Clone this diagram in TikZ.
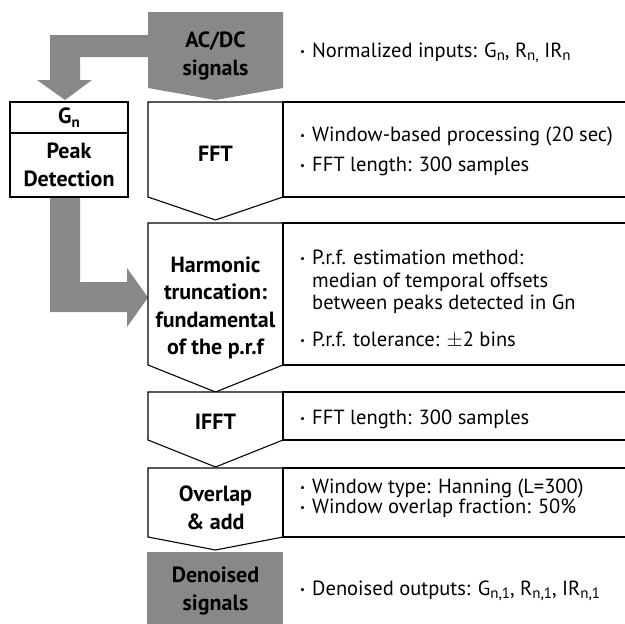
\documentclass[tikz,border=0pt]{standalone}
\usepackage{fontspec}
\setmainfont{PT Sans}
\definecolor{flowgray}{RGB}{136,136,136}
\newcommand\lowsub[1]{\raisebox{-0.35ex}{\fontsize{15}{15}\selectfont #1}}
\newcommand\itembul{\makebox[12pt][l]{\raisebox{0.1ex}{\fontsize{11}{11}\selectfont\textbullet}}}
\begin{document}
\begin{tikzpicture}[x=1pt,y=-1pt,
  stage/.style={draw=black,line width=1.1pt,fill=white,line join=miter},
  infobox/.style={draw=black,line width=1.1pt},
  flow/.style={fill=flowgray,draw=none},
  lbl/.style={font=\fontsize{22}{27.5}\selectfont\bfseries,align=center,inner sep=0pt},
  txt/.style={font=\fontsize{20.5}{22}\selectfont,anchor=base west,inner sep=0pt},
]
\useasboundingbox (0,0) rectangle (625,624);

% grey input/output blocks and the side flow arrows
\fill[flow] (148,12) -- (283,12) -- (283,88) -- (215.5,100) -- (148,88) -- cycle;
\fill[flow] (148,35) -- (50,35) -- (50,80) -- (37,80) -- (65,100) -- (92,80)
  -- (80,80) -- (80,57) -- (148,57) -- cycle;
\fill[flow] (50,197) -- (50,312) -- (127,312) -- (127,327) -- (148,297.5)
  -- (127,268) -- (127,282) -- (80,282) -- (80,197) -- cycle;
\fill[flow] (147,552) rectangle (283,624);

% processing stages (chevron boxes)
\draw[stage] (148,102) -- (283,102) -- (283,197) -- (215.5,220) -- (148,197) -- cycle;
\draw[stage] (148,223) -- (283,223) -- (283,365) -- (215.5,392) -- (148,365) -- cycle;
\draw[stage] (148,392) -- (283,392) -- (283,440) -- (215.5,467) -- (148,440) -- cycle;
\draw[stage] (148,468) -- (283,468) -- (283,537) -- (215.5,550) -- (148,537) -- cycle;

% parameter panels to the right of each stage
\draw[infobox] (626,102) -- (283,102) -- (283,197) -- (626,197);
\draw[infobox] (626,223) -- (283,223) -- (283,365) -- (626,365);
\draw[infobox] (626,392) -- (283,392) -- (283,440) -- (626,440);
\draw[infobox] (626,468) -- (283,468) -- (283,537) -- (626,537);

% peak detection block
\draw[infobox,fill=white] (10,102) rectangle (128,197);
\draw[infobox] (10,133) -- (128,133);

% stage labels
\node[lbl] (acdc) at (215.5,56) {AC/DC\\signals};
\node[lbl] (gn) at (69,118) {G\lowsub{\bfseries n}};
\node[lbl] (peak) at (69,165) {Peak\\Detection};
\node[lbl] (fft) at (215.5,154) {FFT};
\node[lbl] (harm) at (215.5,308) {Harmonic\\truncation:\\fundamental\\of the p.r.f};
\node[lbl] (ifft) at (215.5,422) {IFFT};
\node[lbl] (ola) at (215.5,508) {Overlap\\\& add};
\node[lbl] (den) at (215.5,591) {Denoised\\signals};

% parameter texts
\node[txt] (t0) at (300,57) {\itembul Normalized inputs: G\lowsub{n}, R\lowsub{n,} IR\lowsub{n}};
\node[txt] (t1) at (300,141) {\itembul Window-based processing (20 sec)};
\node[txt] (t2) at (300,171) {\itembul FFT length: 300 samples};
\node[txt] (t3) at (300,264) {\itembul P.r.f. estimation method:};
\node[txt] (t4) at (312,287) {median of temporal offsets};
\node[txt] (t5) at (312,309) {between peaks detected in Gn};
\node[txt] (t6) at (300,346) {\itembul P.r.f. tolerance: $\pm$2 bins};
\node[txt] (t7) at (300,424) {\itembul FFT length: 300 samples};
\node[txt] (t8) at (300,493) {\itembul Window type: Hanning (L=300)};
\node[txt] (t9) at (300,513) {\itembul Window overlap fraction: 50\%};
\node[txt] (t10) at (300,595) {\itembul Denoised outputs: G\lowsub{n,1}, R\lowsub{n,1}, IR\lowsub{n,1}};
\end{tikzpicture}
\end{document}
